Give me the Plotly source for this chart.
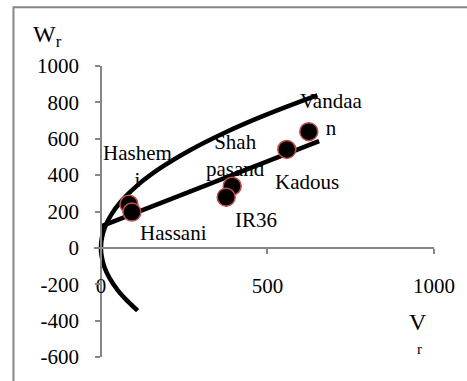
import numpy as np
import plotly.graph_objects as go

# Vr-Wr graph: six rice genotypes, regression line and limiting parabola
genotypes = ["Hashemi", "Hassani", "Shah pasand", "IR36", "Kadous", "Vandaan"]
point_labels = ["Hashem<br>i", "Hassani", "Shah<br>pasand", "IR36", "Kadous", "Vandaa<br>n"]
vr = [84, 93, 394, 376, 558, 624]
wr = [240, 197, 339, 279, 541, 639]

# limiting parabola (Wr^2 = Vr * V0p), points along the curve
parabola_vr = [110, 80, 50, 25, 10, 2, 0, 3, 12, 30, 60, 110, 180, 270, 370, 480, 580, 650]
parabola_wr = [-345, -293, -232, -164, -104, -46, 0, 57, 114, 180, 255, 345, 441, 540, 632, 720, 792, 838]

# extent of the fitted regression line along Vr
trend_vr = [0, 655]

y_ticks = [-600, -400, -200, 0, 200, 400, 600, 800, 1000]
x_ticks = [0, 500, 1000]

# label offsets in pixels (dx, dy up) from each point
label_dx = [9, 42, 3, 30, 20, 22]
label_dy = [38, -21, 31, -23, -33, 17]

# ---- geometry of the figure
FIG_W, FIG_H = 467, 381
left_px, zero_px, right_px = 94, 101, 436
top_px, bottom_px = 66, 358
x_max = 1000
px_per_unit = (right_px - zero_px) / x_max
x_min = -(zero_px - left_px) / px_per_unit
y_min, y_max = -600, 1000

font_family = "Liberation Serif, Times New Roman, serif"
axis_grey = "#868686"

slope, intercept = np.polyfit(vr, wr, 1)
trend_x = np.array(trend_vr, dtype=float)
trend_y = intercept + slope * trend_x

fig = go.Figure()

fig.add_trace(go.Scatter(
    x=parabola_vr, y=parabola_wr, mode="lines",
    line=dict(color="black", width=4.5, shape="spline", smoothing=1.0),
    hoverinfo="skip", showlegend=False,
))
fig.add_trace(go.Scatter(
    x=trend_x, y=trend_y, mode="lines",
    line=dict(color="black", width=4.5),
    hoverinfo="skip", showlegend=False,
))
fig.add_trace(go.Scatter(
    x=vr, y=wr, mode="markers", text=genotypes,
    marker=dict(size=18, color="black", line=dict(color="#C0504D", width=1.5)),
    cliponaxis=False, showlegend=False,
))

for v, w, lab, dx, dy in zip(vr, wr, point_labels, label_dx, label_dy):
    fig.add_annotation(
        x=v, y=w, xref="x", yref="y", text=lab, showarrow=False,
        xshift=dx, yshift=dy, align="center",
        xanchor="center", yanchor="middle",
        font=dict(family=font_family, size=21, color="black"),
    )

plot_w = right_px - left_px
plot_h = bottom_px - top_px


def paper_x(px):
    return (px - left_px) / plot_w


def paper_y(py):
    return (bottom_px - py) / plot_h


# axis titles
fig.add_annotation(
    x=paper_x(47), y=paper_y(36), xref="paper", yref="paper",
    text="W<sub>r</sub>", showarrow=False,
    xanchor="center", yanchor="middle",
    font=dict(family=font_family, size=24, color="black"),
)
fig.add_annotation(
    x=paper_x(420), y=paper_y(323), xref="paper", yref="paper",
    text="V", showarrow=False,
    xanchor="center", yanchor="middle",
    font=dict(family=font_family, size=24, color="black"),
)
fig.add_annotation(
    x=paper_x(421), y=paper_y(350), xref="paper", yref="paper",
    text="r", showarrow=False,
    xanchor="center", yanchor="middle",
    font=dict(family=font_family, size=15, color="black"),
)

# chart-area border
fig.add_shape(
    type="rect", xref="paper", yref="paper",
    x0=paper_x(13), y0=paper_y(FIG_H + 20), x1=paper_x(FIG_W + 20), y1=paper_y(7),
    line=dict(color=axis_grey, width=2), fillcolor="rgba(0,0,0,0)", layer="below",
)

fig.update_layout(
    width=FIG_W, height=FIG_H,
    margin=dict(l=left_px, r=FIG_W - right_px, t=top_px, b=FIG_H - bottom_px, pad=0),
    paper_bgcolor="white", plot_bgcolor="white",
    font=dict(family=font_family, size=21, color="black"),
    showlegend=False,
    xaxis=dict(
        range=[x_min, x_max], tickvals=x_ticks, ticktext=[str(t) for t in x_ticks],
        ticks="outside", ticklen=5, tickcolor=axis_grey, tickwidth=1.5,
        showline=True, linecolor=axis_grey, linewidth=1.5,
        showgrid=False, zeroline=False,
        anchor="free", position=(0 - y_min) / (y_max - y_min),
        ticklabelstandoff=14,
        tickfont=dict(family=font_family, size=21, color="black"),
    ),
    yaxis=dict(
        range=[y_min, y_max], tickvals=y_ticks, ticktext=[str(t) for t in y_ticks],
        ticks="outside", ticklen=5, tickcolor=axis_grey, tickwidth=1.5,
        showline=True, linecolor=axis_grey, linewidth=1.5,
        showgrid=False, zeroline=False,
        anchor="free", position=(0 - x_min) / (x_max - x_min),
        ticklabelstandoff=12,
        tickfont=dict(family=font_family, size=21, color="black"),
    ),
)

fig.write_html("out.html")
